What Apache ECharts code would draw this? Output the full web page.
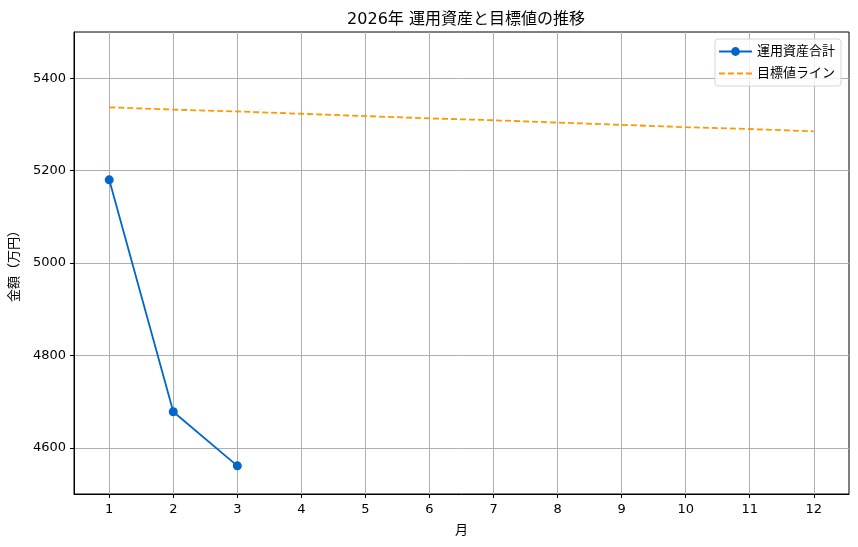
<!DOCTYPE html>
<html>
<head>
<meta charset="utf-8">
<script src="https://cdn.jsdelivr.net/npm/echarts@6/dist/echarts.min.js"></script>
<style>
  html, body { margin: 0; padding: 0; background: #fff; }
  #main { width: 858px; height: 547px; }
</style>
</head>
<body>
<div id="main"></div>
<script>
// data
var months = [1, 2, 3, 4, 5, 6, 7, 8, 9, 10, 11, 12];
var assetTotal = [5180, 4678, 4561];
var targetLine = [5337, 5332, 5328, 5323, 5318, 5313, 5309, 5304, 5299, 5294, 5290, 5285];
var yTicks = [4600, 4800, 5000, 5200, 5400];

var chart = echarts.init(document.getElementById('main'));
var font = '"DejaVu Sans", "Noto Sans CJK JP", sans-serif';

function pairs(vals) {
    return vals.map(function (v, i) { return [months[i], v]; });
}

var option = {
    backgroundColor: '#fff',
    textStyle: { fontFamily: font },
    animation: false,
    title: {
        text: '2026年 運用資産と目標値の推移',
        left: 461,
        textAlign: 'center',
        top: 7,
        textStyle: { fontFamily: font, fontSize: 16, fontWeight: 'normal', color: '#000' }
    },
    legend: {
        orient: 'vertical',
        right: 17,
        top: 39,
        padding: [6, 6, 6, 3],
        itemWidth: 33,
        itemHeight: 11,
        itemGap: 9,
        backgroundColor: 'rgba(255,255,255,0.8)',
        borderColor: '#d5d5d5',
        borderWidth: 1,
        borderRadius: 3,
        textStyle: { fontFamily: font, fontSize: 13, color: '#000' },
        data: [
            { name: '運用資産合計' },
            { name: '目標値ライン', itemStyle: { opacity: 0 } }
        ]
    },
    grid: {
        left: 74,
        right: 9,
        top: 32,
        bottom: 53,
        outerBoundsMode: 'none',
        containLabel: false,
        show: true,
        borderColor: '#000',
        borderWidth: 1
    },
    xAxis: {
        type: 'value',
        min: 0.45,
        max: 12.55,
        name: '月',
        nameLocation: 'middle',
        nameGap: 30,
        nameTextStyle: { fontFamily: font, fontSize: 13, color: '#000' },
        axisLine: { show: true, lineStyle: { color: '#000' } },
        axisTick: { show: true, length: 4, customValues: months, lineStyle: { color: '#000' } },
        axisLabel: { customValues: months, fontSize: 13, color: '#000', margin: 9 },
        splitLine: { show: true, lineStyle: { color: '#b0b0b0', width: 1 } }
    },
    yAxis: {
        type: 'value',
        min: 4500,
        max: 5500,
        name: '金額（万円）',
        nameLocation: 'middle',
        nameGap: 53,
        nameTextStyle: { fontFamily: font, fontSize: 13, color: '#000' },
        axisLine: { show: true, lineStyle: { color: '#000' } },
        axisTick: { show: true, length: 4, customValues: yTicks, lineStyle: { color: '#000' } },
        axisLabel: {
            customValues: yTicks,
            fontSize: 13,
            color: '#000',
            margin: 8,
            formatter: function (v) { return String(v); }
        },
        splitLine: { show: true, lineStyle: { color: '#b0b0b0', width: 1 } }
    },
    series: [
        {
            name: '運用資産合計',
            type: 'line',
            data: pairs(assetTotal),
            color: '#0066cc',
            symbol: 'circle',
            symbolSize: 9,
            lineStyle: { width: 1.8 },
            z: 3
        },
        {
            name: '目標値ライン',
            type: 'line',
            data: pairs(targetLine),
            color: '#ff9900',
            showSymbol: false,
            symbol: 'none',
            lineStyle: { width: 1.8, type: [6, 3] },
            z: 2
        }
    ]
};

chart.setOption(option);

window.onresize = function () {
    chart.resize();
};
</script>
</body>
</html>
